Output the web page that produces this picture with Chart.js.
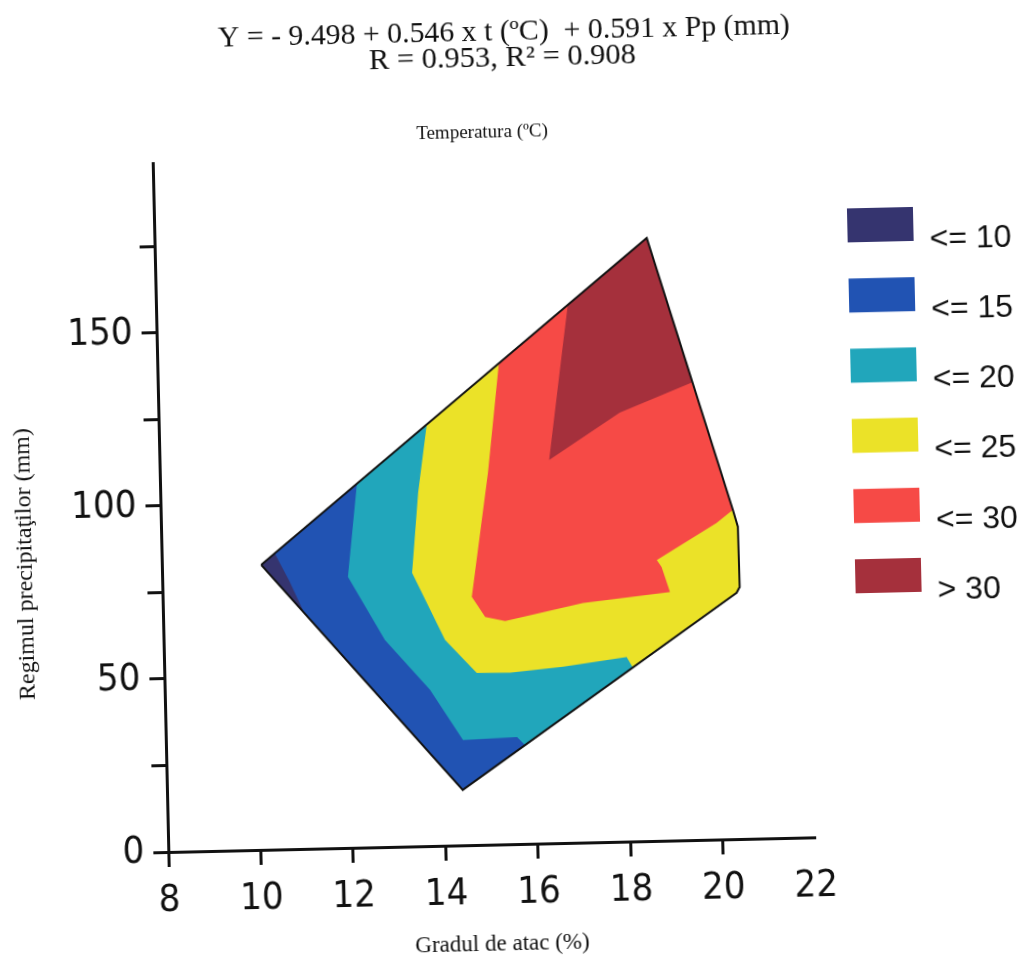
<!DOCTYPE html>
<html lang="ro">
<head>
<meta charset="utf-8">
<title>Gradul de atac – regimul precipitaţiilor</title>
<script src="https://cdn.jsdelivr.net/npm/chart.js@4/dist/chart.umd.min.js"></script>
<style>
  html, body { margin: 0; padding: 0; background: #fff; }
  #wrap { width: 1033px; height: 960px; overflow: hidden; }
  /* the printed page sits slightly askew */
  #plot { display: block; transform: rotate(-1.3deg); transform-origin: 50% 50%; }
</style>
</head>
<body>
<div id="wrap"><canvas id="plot" width="1033" height="960"></canvas></div>
<script>
/* ---------- data ---------- */
const xTicks = [8, 10, 12, 14, 16, 18, 20, 22];
const yTicks = [0, 25, 50, 75, 100, 125, 150, 175];
const yLabelled = [0, 50, 100, 150];

const levelLabels = ['<= 10', '<= 15', '<= 20', '<= 25', '<= 30', '> 30'];
const levelColors = ['#35346f', '#2153b3', '#21a6bb', '#ebe228', '#f64a46', '#a5303c'];

// filled contour bands (gradul de atac %, precipitaţii mm), each one is
// the area above the previous level
const hullX = [10.15, 18.65, 20.38, 20.48, 20.49, 20.42, 14.40];
const hullY = [82.3, 174.2, 95.1, 90.2, 72.8, 71.1, 16.0];

const over10X = [10.15, 10.45, 10.75, 11.05];
const over10Y = [82.3, 85.5, 77.5, 68.3];

const over15X = [12.26, 18.65, 20.38, 20.48, 20.49, 20.42, 15.77, 15.60, 14.43, 13.74, 12.79, 12.02];
const over15Y = [105.1, 174.2, 95.1, 90.2, 72.8, 71.1, 28.5, 30.9, 30.4, 45.1, 59.8, 78.3];

const over20X = [13.80, 18.65, 20.38, 20.48, 20.49, 20.42, 18.14, 18.01, 16.63, 15.48, 14.76, 14.09, 13.41, 13.58];
const over20Y = [121.8, 174.2, 95.1, 90.2, 72.8, 71.1, 50.2, 53.3, 50.9, 49.5, 49.7, 59.4, 79.0, 102.1];

const over25X = [15.39, 18.65, 20.38, 20.02, 18.71, 18.81, 18.98, 17.09, 15.40, 14.97, 14.69, 14.77, 15.10];
const over25Y = [138.9, 174.2, 95.1, 91.4, 81.1, 79.1, 71.8, 69.2, 64.5, 65.8, 71.7, 78.6, 107.4];

const over30X = [16.91, 18.65, 19.57, 17.98, 16.43, 16.76];
const over30Y = [155.4, 174.2, 132.2, 123.9, 110.7, 141.6];

/* ---------- helpers ---------- */
const pts = (xs, ys) => xs.map((x, i) => ({ x, y: ys[i] }));

function band(xs, ys, color) {
  return {
    data: pts(xs, ys),
    showLine: true,
    fill: 'shape',
    backgroundColor: color,
    borderWidth: 0,
    pointRadius: 0,
    tension: 0
  };
}

const outline = pts(hullX, hullY);
outline.push(outline[0]);

const ink = '#111';
const tickFont = { family: "'Liberation Sans Narrow', 'Arial Narrow', 'DejaVu Sans Condensed', sans-serif", size: 38 };
const serif = "'Liberation Serif', 'Times New Roman', serif";

// centred text fitted to a given width
function fitText(ctx, text, cx, cy, width) {
  const k = width / ctx.measureText(text).width;
  ctx.save();
  ctx.translate(cx, cy);
  ctx.scale(k, 1);
  ctx.fillText(text, 0, 0);
  ctx.restore();
}

/* ---------- texts and legend ---------- */
const decorations = {
  id: 'decorations',
  afterDraw(chart) {
    const ctx = chart.ctx;
    ctx.save();
    ctx.fillStyle = ink;
    ctx.textAlign = 'center';
    ctx.textBaseline = 'middle';

    ctx.font = '29px ' + serif;
    fitText(ctx, 'Y = - 9.498 + 0.546 x t (ºC)  + 0.591 x Pp (mm)', 514, 32, 572);
    fitText(ctx, 'R = 0.953, R² = 0.908', 512, 58, 267);

    ctx.font = '19px ' + serif;
    ctx.fillText('Temperatura (ºC)', 490, 132);

    ctx.font = '23px ' + serif;
    ctx.fillText('Gradul de atac (%)', 492, 944);

    ctx.save();
    ctx.translate(24, 553);
    ctx.rotate(-Math.PI / 2);
    ctx.font = '24px ' + serif;
    ctx.fillText('Regimul precipitaţilor (mm)', 0, 0);
    ctx.restore();

    // legend: one swatch per level
    ctx.textAlign = 'left';
    ctx.font = "32px 'Liberation Sans', Arial, sans-serif";
    levelLabels.forEach((label, i) => {
      const cy = 233 + i * 70.2;
      ctx.fillStyle = levelColors[i];
      ctx.fillRect(853, cy - 17, 66, 34);
      ctx.fillStyle = ink;
      ctx.fillText(label, 935, cy + 16);
    });
    ctx.restore();
  }
};

/* ---------- chart ---------- */
new Chart(document.getElementById('plot'), {
  type: 'scatter',
  data: {
    datasets: [
      { data: outline, showLine: true, fill: false, borderColor: ink, borderWidth: 2, pointRadius: 0, tension: 0 },
      band(over10X, over10Y, levelColors[0]),
      band(over30X, over30Y, levelColors[5]),
      band(over25X, over25Y, levelColors[4]),
      band(over20X, over20Y, levelColors[3]),
      band(over15X, over15Y, levelColors[2]),
      band(hullX, hullY, levelColors[1])
    ]
  },
  options: {
    responsive: false,
    animation: false,
    events: [],
    layout: { padding: { left: 0, right: 226, top: 155, bottom: 36 } },
    plugins: {
      legend: { display: false },
      tooltip: { enabled: false }
    },
    scales: {
      x: {
        type: 'linear',
        min: 8,
        max: 22,
        afterBuildTicks: s => { s.ticks = xTicks.map(v => ({ value: v })); },
        afterFit: s => { s.height = 80; },
        ticks: { font: tickFont, color: ink, padding: 11, maxRotation: 0, autoSkip: false },
        grid: {
          drawOnChartArea: false,
          tickLength: 15,
          tickWidth: 3,
          tickColor: c => (c.tick && c.tick.value === 22 ? 'rgba(0,0,0,0)' : ink)
        },
        border: { color: ink, width: 3 }
      },
      y: {
        type: 'linear',
        min: 0,
        max: 199,
        afterBuildTicks: s => { s.ticks = yTicks.map(v => ({ value: v })); },
        afterFit: s => { s.width = 160; },
        ticks: {
          font: tickFont,
          color: ink,
          padding: 9,
          autoSkip: false,
          callback: v => (yLabelled.includes(v) ? String(v) : '')
        },
        grid: { drawOnChartArea: false, tickLength: 15, tickWidth: 3, tickColor: ink },
        border: { color: ink, width: 3 }
      }
    }
  },
  plugins: [decorations]
});
</script>
</body>
</html>
